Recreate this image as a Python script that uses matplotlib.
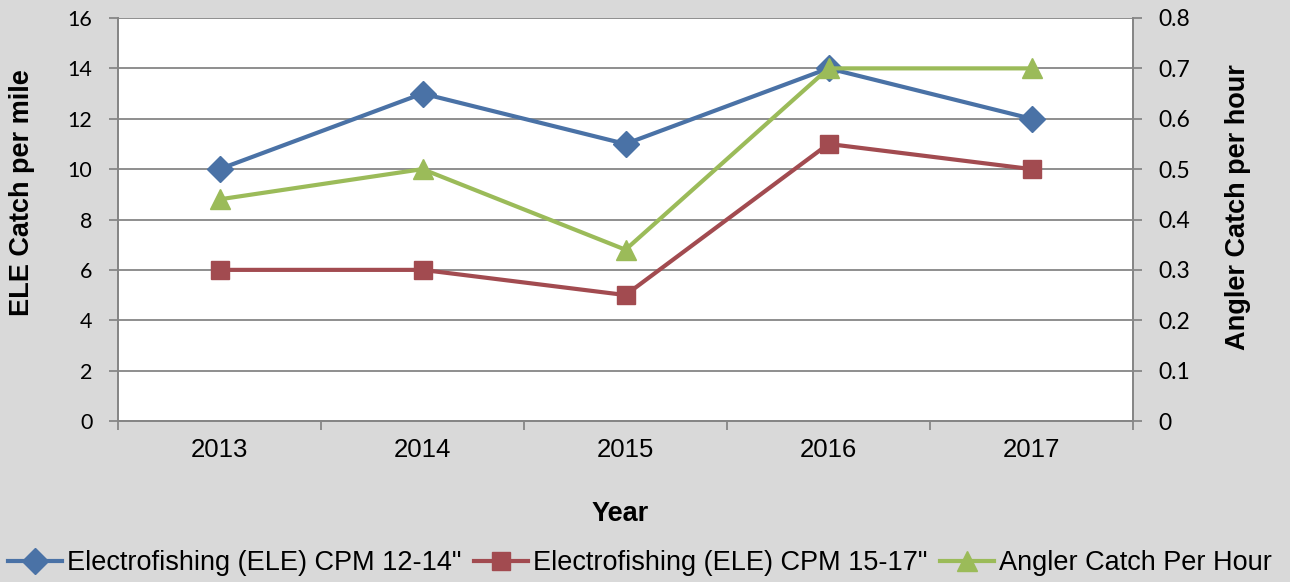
import matplotlib
matplotlib.use("Agg")
import matplotlib.pyplot as plt
import numpy as np

years = ["2013", "2014", "2015", "2016", "2017"]
ele_12_14 = [10, 13, 11, 14, 12]
ele_15_17 = [6, 6, 5, 11, 10]
angler_cph = [0.44, 0.50, 0.34, 0.70, 0.70]
left_ticks = [0, 2, 4, 6, 8, 10, 12, 14, 16]
right_ticks = [0, 0.1, 0.2, 0.3, 0.4, 0.5, 0.6, 0.7, 0.8]
right_labels = ["0", "0.1", "0.2", "0.3", "0.4", "0.5", "0.6", "0.7", "0.8"]
series_names = ['Electrofishing (ELE) CPM 12-14"', 'Electrofishing (ELE) CPM 15-17"',
                'Angler Catch Per Hour']

plt.rcParams['font.family'] = ['Liberation Sans', 'DejaVu Sans']

BG = '#d9d9d9'
GRID = '#868686'
C_BLUE = '#4A72A6'
C_RED = '#A24B50'
C_GREEN = '#9BBB59'

fig = plt.figure(figsize=(12.9, 5.82), dpi=100, facecolor=BG)
ax = fig.add_axes([118/1290, 1 - 421/582, (1133-118)/1290, (421-18)/582])
ax.set_facecolor('white')
ax2 = ax.twinx()

x = np.arange(len(years))
l1, = ax.plot(x, ele_12_14, color=C_BLUE, lw=3, marker='D', ms=13, zorder=5)
l2, = ax.plot(x, ele_15_17, color=C_RED, lw=3, marker='s', ms=13, zorder=5)
l3, = ax2.plot(x, angler_cph, color=C_GREEN, lw=3, marker='^', ms=14, zorder=5)

ax.set_xlim(-0.5, len(years) - 0.5)
ax.set_ylim(0, 16)
ax2.set_ylim(0, 0.8)
ax.set_yticks(left_ticks)
ax.set_yticklabels([str(t) for t in left_ticks], family='Lato', fontsize=15.5)
ax2.set_yticks(right_ticks)
ax2.set_yticklabels(right_labels, family='Lato', fontsize=16.5)

ax.set_xticks(x)
ax.set_xticklabels(years, fontsize=18.5)
ax.set_xticks(np.arange(-0.5, len(years), 1.0), minor=True)
ax.tick_params(axis='x', which='major', length=0, pad=12)
ax.tick_params(axis='x', which='minor', length=6.5, width=1.3, color=GRID, direction='out')
ax.tick_params(axis='y', length=6.5, width=1.3, color=GRID, pad=12)
ax2.tick_params(axis='y', length=6.5, width=1.3, color=GRID, pad=12)

ax.yaxis.grid(True, color=GRID, lw=1.3)
ax.set_axisbelow(True)
for a in (ax, ax2):
    a.spines['top'].set_visible(False)
    for s in ('left', 'right', 'bottom'):
        a.spines[s].set_color(GRID)
        a.spines[s].set_linewidth(1.3)

fig.text(22/1290, 1 - 193/582, 'ELE Catch per mile', rotation=90, ha='center', va='center',
         fontsize=19.5, fontweight='bold')
fig.text(1238/1290, 1 - 207/582, 'Angler Catch per hour', rotation=90, ha='center', va='center',
         fontsize=19.5, fontweight='bold')
fig.text(620/1290, 1 - 514/582, 'Year', ha='center', va='center', fontsize=19.5, fontweight='bold')

fig.legend([l1, l2, l3], series_names, loc='center', bbox_to_anchor=(640/1290, 1 - 563/582),
           ncol=3, frameon=False, fontsize=19.5, handlelength=1.99, handletextpad=0.2,
           columnspacing=0.45, borderpad=0, borderaxespad=0)

fig.savefig('out.png', dpi=100, facecolor=BG)
